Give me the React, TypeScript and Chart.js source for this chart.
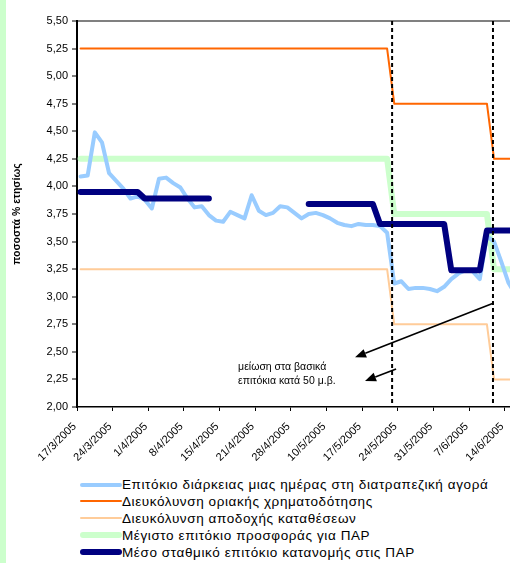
import React, { useEffect, useRef } from 'react';
import { Chart, registerables } from 'chart.js';

Chart.register(...registerables);

const categories = [
  '17/3/2005', '18/3/2005', '21/3/2005', '22/3/2005', '23/3/2005', '24/3/2005', '28/3/2005', '29/3/2005', '30/3/2005', '31/3/2005',
  '1/4/2005', '4/4/2005', '5/4/2005', '6/4/2005', '7/4/2005', '8/4/2005', '11/4/2005', '12/4/2005', '13/4/2005', '14/4/2005',
  '15/4/2005', '16/4/2005', '18/4/2005', '19/4/2005', '20/4/2005', '21/4/2005', '22/4/2005', '25/4/2005', '26/4/2005', '27/4/2005',
  '28/4/2005', '4/5/2005', '5/5/2005', '6/5/2005', '9/5/2005', '10/5/2005', '11/5/2005', '12/5/2005', '13/5/2005', '16/5/2005',
  '17/5/2005', '18/5/2005', '19/5/2005', '20/5/2005', '23/5/2005', '24/5/2005', '25/5/2005', '26/5/2005', '27/5/2005', '30/5/2005',
  '31/5/2005', '1/6/2005', '2/6/2005', '3/6/2005', '6/6/2005', '7/6/2005', '8/6/2005', '9/6/2005', '10/6/2005', '13/6/2005',
  '14/6/2005', '15/6/2005',
];

const seriesNames = [
  'Επιτόκιο διάρκειας μιας ημέρας στη διατραπεζική αγορά',
  'Διευκόλυνση οριακής χρηματοδότησης',
  'Διευκόλυνση αποδοχής καταθέσεων',
  'Μέγιστο επιτόκιο προσφοράς για ΠΑΡ',
  'Μέσο σταθμικό επιτόκιο κατανομής στις ΠΑΡ',
];

const overnightRate = [
  4.09, 4.10, 4.49, 4.40, 4.12, 4.05, 3.98, 3.89, 3.91, 3.88,
  3.80, 4.07, 4.08, 4.03, 3.99, 3.89, 3.81, 3.82, 3.74, 3.69,
  3.68, 3.77, 3.74, 3.71, 3.92, 3.78, 3.74, 3.76, 3.82, 3.81,
  3.76, 3.71, 3.75, 3.76, 3.74, 3.71, 3.67, 3.65, 3.64, 3.66,
  3.65, 3.65, 3.64, 3.58, 3.12, 3.14, 3.07, 3.08, 3.08, 3.07,
  3.05, 3.09, 3.16, 3.21, 3.24, 3.23, 3.16, 3.55, 3.50, 3.32,
  3.13, 3.02,
];

const marginalLending = [
  5.25, 5.25, 5.25, 5.25, 5.25, 5.25, 5.25, 5.25, 5.25, 5.25,
  5.25, 5.25, 5.25, 5.25, 5.25, 5.25, 5.25, 5.25, 5.25, 5.25,
  5.25, 5.25, 5.25, 5.25, 5.25, 5.25, 5.25, 5.25, 5.25, 5.25,
  5.25, 5.25, 5.25, 5.25, 5.25, 5.25, 5.25, 5.25, 5.25, 5.25,
  5.25, 5.25, 5.25, 5.25, 4.75, 4.75, 4.75, 4.75, 4.75, 4.75,
  4.75, 4.75, 4.75, 4.75, 4.75, 4.75, 4.75, 4.75, 4.25, 4.25,
  4.25, 4.25,
];

const depositFacility = [
  3.25, 3.25, 3.25, 3.25, 3.25, 3.25, 3.25, 3.25, 3.25, 3.25,
  3.25, 3.25, 3.25, 3.25, 3.25, 3.25, 3.25, 3.25, 3.25, 3.25,
  3.25, 3.25, 3.25, 3.25, 3.25, 3.25, 3.25, 3.25, 3.25, 3.25,
  3.25, 3.25, 3.25, 3.25, 3.25, 3.25, 3.25, 3.25, 3.25, 3.25,
  3.25, 3.25, 3.25, 3.25, 2.75, 2.75, 2.75, 2.75, 2.75, 2.75,
  2.75, 2.75, 2.75, 2.75, 2.75, 2.75, 2.75, 2.75, 2.25, 2.25,
  2.25, 2.25,
];

const maxBidRate = [
  4.25, 4.25, 4.25, 4.25, 4.25, 4.25, 4.25, 4.25, 4.25, 4.25,
  4.25, 4.25, 4.25, 4.25, 4.25, 4.25, 4.25, 4.25, 4.25, 4.25,
  4.25, 4.25, 4.25, 4.25, 4.25, 4.25, 4.25, 4.25, 4.25, 4.25,
  4.25, 4.25, 4.25, 4.25, 4.25, 4.25, 4.25, 4.25, 4.25, 4.25,
  4.25, 4.25, 4.25, 4.25, 3.75, 3.75, 3.75, 3.75, 3.75, 3.75,
  3.75, 3.75, 3.75, 3.75, 3.75, 3.75, 3.75, 3.75, 3.25, 3.25,
  3.25, 3.25,
];

const avgAllotmentRate = [
  3.95, 3.95, 3.95, 3.95, 3.95, 3.95, 3.95, 3.95, 3.95, 3.89,
  3.89, 3.89, 3.89, 3.89, 3.89, 3.89, 3.89, 3.89, 3.89, null,
  null, null, null, null, null, null, null, null, null, null,
  null, null, 3.84, 3.84, 3.84, 3.84, 3.84, 3.84, 3.84, 3.84,
  3.84, 3.84, 3.66, 3.66, 3.66, 3.66, 3.66, 3.66, 3.66, 3.66,
  3.66, 3.66, 3.24, 3.24, 3.24, 3.24, 3.24, 3.60, 3.60, 3.60,
  3.60, 3.60,
];

// positions (in category units) of the two policy-rate cut markers
const rateCutPositions = [43.7, 57.85];

const noteLines = ['μείωση στα βασικά', 'επιτόκια κατά 50 μ.β.'];
const noteAnchor = { x: 22.1, y: [2.363, 2.236] };
const noteArrows = [
  { from: [57.87, 2.94], to: [38.5, 2.45] },
  { from: [44.26, 2.345], to: [39.9, 2.236] },
];

const FONT = 'Arial, "Liberation Sans", sans-serif';

const seriesStyles = [
  { color: '#99CCFF', width: 4, order: 1 },
  { color: '#FF6600', width: 2, order: 2 },
  { color: '#FFCC99', width: 2, order: 3 },
  { color: '#CCFFCC', width: 6, order: 4 },
  { color: '#000080', width: 6, order: 0 },
];

const notesPlugin = {
  id: 'notes',
  afterDatasetsDraw(chart: any) {
    const { ctx, chartArea, scales } = chart;
    const xs = scales.x;
    const ys = scales.y;
    ctx.save();
    ctx.strokeStyle = '#000';
    ctx.fillStyle = '#000';
    ctx.lineWidth = 2;
    ctx.setLineDash([4, 3]);
    for (const p of rateCutPositions) {
      const px = xs.getPixelForValue(p);
      ctx.beginPath();
      ctx.moveTo(px, chartArea.top);
      ctx.lineTo(px, chartArea.bottom);
      ctx.stroke();
    }
    ctx.setLineDash([]);
    for (const a of noteArrows) {
      const x1 = xs.getPixelForValue(a.from[0]);
      const y1 = ys.getPixelForValue(a.from[1]);
      const x2 = xs.getPixelForValue(a.to[0]);
      const y2 = ys.getPixelForValue(a.to[1]);
      const ang = Math.atan2(y2 - y1, x2 - x1);
      const headLen = 11;
      const headW = 4.5;
      const bx = x2 - headLen * Math.cos(ang);
      const by = y2 - headLen * Math.sin(ang);
      ctx.lineWidth = 1.6;
      ctx.beginPath();
      ctx.moveTo(x1, y1);
      ctx.lineTo(bx, by);
      ctx.stroke();
      ctx.beginPath();
      ctx.moveTo(x2, y2);
      ctx.lineTo(bx + headW * Math.sin(ang), by - headW * Math.cos(ang));
      ctx.lineTo(bx - headW * Math.sin(ang), by + headW * Math.cos(ang));
      ctx.closePath();
      ctx.fill();
    }
    ctx.font = `10.5px ${FONT}`;
    ctx.textBaseline = 'middle';
    ctx.textAlign = 'left';
    noteLines.forEach((t, k) => {
      ctx.fillText(t, xs.getPixelForValue(noteAnchor.x), ys.getPixelForValue(noteAnchor.y[k]));
    });
    ctx.restore();
  },
};

export default function App() {
  const ref = useRef<HTMLCanvasElement | null>(null);

  useEffect(() => {
    if (!ref.current) return;
    Chart.defaults.font.family = FONT;
    Chart.defaults.color = '#000';
    const seriesData = [overnightRate, marginalLending, depositFacility, maxBidRate, avgAllotmentRate];
    const chart = new Chart(ref.current, {
      type: 'line',
      data: {
        labels: categories,
        datasets: seriesData.map((d, i) => ({
          label: seriesNames[i],
          data: d,
          borderColor: seriesStyles[i].color,
          backgroundColor: seriesStyles[i].color,
          borderWidth: seriesStyles[i].width,
          order: seriesStyles[i].order,
          pointRadius: 0,
          tension: 0,
          spanGaps: false,
          borderCapStyle: 'round',
          borderJoinStyle: 'round',
          fill: false,
        })),
      },
      options: {
        responsive: false,
        animation: false,
        layout: { padding: { left: 8, right: 11, top: 21, bottom: 0 } },
        plugins: { legend: { display: false }, tooltip: { enabled: false } },
        scales: {
          x: {
            type: 'category',
            offset: true,
            grid: {
              offset: true,
              drawOnChartArea: false,
              tickLength: 4,
              tickWidth: 1,
              tickColor: (c: any) => (c.index % 5 === 0 ? '#000' : 'rgba(0,0,0,0)'),
            },
            border: { color: '#000', width: 1.5 },
            ticks: {
              autoSkip: false,
              maxRotation: 45,
              minRotation: 45,
              labelOffset: -6,
              padding: 9,
              color: '#000',
              font: { size: 11, family: FONT },
              callback: (_v: any, i: number) => (i % 5 === 0 ? categories[i] : ''),
            },
            afterFit: (s: any) => {
              s.height = 63;
              s.paddingLeft = 0;
              s.paddingRight = 0;
            },
          },
          y: {
            min: 2,
            max: 5.5,
            ticks: {
              stepSize: 0.25,
              padding: 4,
              color: '#000',
              font: { size: 11, family: FONT },
              callback: (v: any) => Number(v).toFixed(2).replace('.', ','),
            },
            grid: {
              color: (c: any) => (c.tick && Math.abs(c.tick.value - 5.5) < 1e-6 ? '#808080' : 'rgba(0,0,0,0)'),
              lineWidth: 2,
              tickColor: '#000',
              tickLength: 5,
              tickWidth: 1,
            },
            border: { color: '#000', width: 2 },
            title: {
              display: true,
              text: 'ποσοστά % ετησίως',
              color: '#000',
              font: { size: 10.5, weight: 'bold', family: FONT },
              padding: { top: 3, bottom: 0 },
            },
            afterFit: (s: any) => { s.width = 69; },
          },
        },
      } as any,
      plugins: [notesPlugin],
    });
    return () => chart.destroy();
  }, []);

  return (
    <div style={{ position: 'fixed', left: 0, top: 0, width: 510, height: 563, overflow: 'hidden', background: '#fff' }}>
      <div style={{ position: 'absolute', left: 0, top: 0, width: 6, height: 563, background: '#CCFFCC' }} />
      <canvas
        ref={ref}
        width={530}
        height={470}
        style={{ position: 'absolute', left: 0, top: 0, width: 530, height: 470 }}
      />
      {seriesNames.map((name, k) => (
        <div
          key={name}
          style={{
            position: 'absolute',
            left: 80,
            top: 476.5 + k * 16.9,
            height: 16,
            display: 'flex',
            alignItems: 'center',
            whiteSpace: 'nowrap',
            fontFamily: FONT,
            fontSize: 13.5,
            letterSpacing: 0.6,
            color: '#000',
          }}
        >
          <span
            style={{
              display: 'inline-block',
              width: 42,
              height: seriesStyles[k].width,
              borderRadius: seriesStyles[k].width / 2,
              background: seriesStyles[k].color,
            }}
          />
          <span>{name}</span>
        </div>
      ))}
    </div>
  );
}
